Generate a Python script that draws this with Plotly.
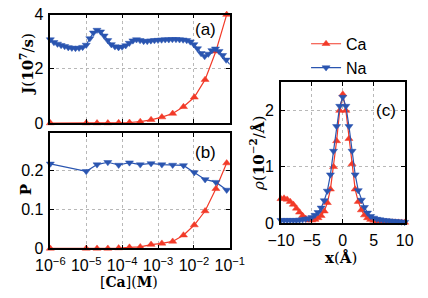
import numpy as np
import plotly.graph_objects as go

W, H = 428, 298

# ---------- data ----------
# panel (a)/(b): Ca concentrations (sparse) and values
conc_sparse = [1e-6] + [1e-5 * 2 ** k for k in range(14)]
J_Ca = [0, 0, 0, 0, 0.01, 0.02, 0.05, 0.12, 0.22, 0.35, 0.6, 0.95, 1.6, 2.65, 4.0]
P_Ca = [0, 0, 0, 0, 0.001, 0.003, 0.004, 0.01, 0.013, 0.018, 0.034, 0.06, 0.096, 0.153, 0.219]
P_Na = [0.217, 0.198, 0.215, 0.221, 0.214, 0.22, 0.215, 0.218, 0.215, 0.214, 0.213,
        0.195, 0.177, 0.17, 0.15]

# Na flux sampled every 0.1 decade
log_conc_dense = [-6 + 0.1 * i for i in range(51)]
J_Na = [3.08, 2.98, 2.92, 2.87, 2.83, 2.79, 2.77, 2.76, 2.77, 2.8,
        2.88, 3.12, 3.33, 3.43, 3.37, 3.22, 3.05, 2.9, 2.82, 2.79,
        2.81, 2.86, 2.95, 3.04, 3.08, 3.05, 3.02, 3.02, 3.04, 3.05,
        3.06, 3.07, 3.08, 3.08, 3.09, 3.09, 3.08, 3.07, 3.05, 3.0,
        2.9, 2.75, 2.57, 2.46, 2.55, 2.68, 2.74, 2.65, 2.5, 2.33, 2.16]

# panel (c): density profiles, x every 0.5 Angstrom
x_pos = [-10 + 0.5 * i for i in range(41)]
rho_Ca = [0.43, 0.44, 0.42, 0.38, 0.33, 0.26, 0.19, 0.13, 0.08, 0.05,
          0.05, 0.06, 0.09, 0.13, 0.21, 0.36, 0.6, 1.0, 1.46, 2.0,
          2.29,
          2.0, 1.5, 1.05, 0.6, 0.38, 0.23, 0.14, 0.09, 0.06, 0.045,
          0.03, 0.025, 0.02, 0.018, 0.015, 0.013, 0.012, 0.011, 0.01, 0.01]
rho_Na = [0.05, 0.05, 0.05, 0.05, 0.05, 0.05, 0.055, 0.06, 0.07, 0.08,
          0.1, 0.14, 0.19, 0.27, 0.4, 0.57, 0.86, 1.28, 1.72, 2.08,
          2.24,
          2.08, 1.72, 1.28, 0.86, 0.58, 0.41, 0.28, 0.18, 0.12, 0.09,
          0.07, 0.06, 0.05, 0.045, 0.04, 0.035, 0.03, 0.025, 0.02, 0.015]

RED = "#f23a28"
BLUE = "#2a55b0"

fig = go.Figure()

def add(x, y, color, sym, xa, ya, name, show):
    fig.add_trace(go.Scatter(
        x=x, y=y, mode="lines+markers", name=name, showlegend=show,
        line=dict(color=color, width=1.2),
        marker=dict(symbol=sym, size=7, color=color,
                    line=dict(color=color, width=0.5)),
        xaxis=xa, yaxis=ya, cliponaxis=False))

add(conc_sparse, J_Ca, RED, "triangle-up", "x", "y", "Ca", True)
add([10 ** v for v in log_conc_dense], J_Na, BLUE, "triangle-down", "x", "y", "Na", True)
add(conc_sparse, P_Ca, RED, "triangle-up", "x2", "y2", "Ca", False)
add(conc_sparse, P_Na, BLUE, "triangle-down", "x2", "y2", "Na", False)
add(x_pos, rho_Ca, RED, "triangle-up", "x3", "y3", "Ca", False)
add(x_pos, rho_Na, BLUE, "triangle-down", "x3", "y3", "Na", False)

def px_x(a, b):
    return [a / W, b / W]

def px_y(top, bot):
    return [1 - bot / H, 1 - top / H]

TICKFONT = dict(family="Liberation Sans, Arial", size=16, color="black")
common = dict(showline=True, linecolor="black", linewidth=1.5, mirror="ticks",
              ticks="inside", ticklen=4, tickcolor="black", tickwidth=1,
              showgrid=True, gridcolor="#b8b8b8", griddash="dot", gridwidth=1,
              zeroline=False, tickfont=TICKFONT, ticklabeloverflow="allow")

logvals = [1e-6, 1e-5, 1e-4, 1e-3, 1e-2, 1e-1]
logtext = ["10<sup>−%d</sup>" % k for k in range(6, 0, -1)]

fig.update_layout(
    width=W, height=H, margin=dict(l=0, r=0, t=0, b=0),
    paper_bgcolor="white", plot_bgcolor="white",
    xaxis=dict(domain=px_x(38, 231), type="log", range=[-6, -1], anchor="y",
               tickvals=logvals, showticklabels=False, **common),
    yaxis=dict(domain=px_y(7, 122), range=[0, 4], anchor="x",
               tickvals=[0, 2, 4], ticklabelstandoff=2, **common),
    xaxis2=dict(domain=px_x(38, 231), type="log", range=[-6, -1], anchor="y2",
                tickvals=logvals, ticktext=logtext, ticklabelstandoff=2, **common),
    yaxis2=dict(domain=px_y(133, 255), range=[0, 0.295], anchor="x2",
                tickvals=[0, 0.1, 0.2], ticklabelstandoff=2, **common),
    xaxis3=dict(domain=px_x(286, 419), range=[-10, 10], anchor="y3",
                tickvals=[-10, -5, 0, 5, 10], ticklabelstandoff=2, **common),
    yaxis3=dict(domain=px_y(79, 228), range=[0, 2.5], anchor="x3",
                tickvals=[0, 1, 2], ticklabelstandoff=2, **common),
    legend=dict(x=313 / W, y=1 - 20 / H, xanchor="left", yanchor="top",
                bgcolor="rgba(0,0,0,0)", borderwidth=0,
                font=dict(family="Liberation Sans, Arial", size=16, color="black"),
                itemwidth=30, tracegroupgap=0),
)

SERIF = dict(family="DejaVu Serif, Liberation Serif", size=15, color="black")
ann = [
    dict(x=12 / W, y=1 - 60 / H, text="<b>J</b>(<b>10</b><sup><b>7</b></sup>/<b>s</b>)",
         textangle=-90, yanchor="middle"),
    dict(x=12 / W, y=1 - 193 / H, text="<b>P</b>", textangle=-90, yanchor="middle"),
    dict(x=123 / W, y=0, text="[<b>Ca</b>](<b>M</b>)", textangle=0, yanchor="bottom",
         yshift=-3, font=dict(family="DejaVu Serif, Liberation Serif", size=14, color="black")),
    dict(x=261 / W, y=1 - 154 / H, text="<i>ρ</i>(<b>10</b><sup>−<b>2</b></sup>/<b>Å</b>)",
         textangle=-90, yanchor="middle"),
    dict(x=351 / W, y=1 - 265 / H, text="<b>x</b>(<b>Å</b>)", textangle=0, yanchor="middle"),
]
for a in ann:
    a.setdefault("font", SERIF)
    fig.add_annotation(xref="paper", yref="paper", xanchor="center",
                       showarrow=False, **a)

LBL = dict(family="Liberation Sans, Arial", size=17, color="black")
for x, y, t in [(205, 23, "(a)"), (205, 153, "(b)"), (399, 109, "(c)")]:
    fig.add_annotation(xref="paper", yref="paper", x=x / W, y=1 - y / H, text=t,
                       showarrow=False, xanchor="center", yanchor="middle", font=LBL)

fig.write_html("out.html")
